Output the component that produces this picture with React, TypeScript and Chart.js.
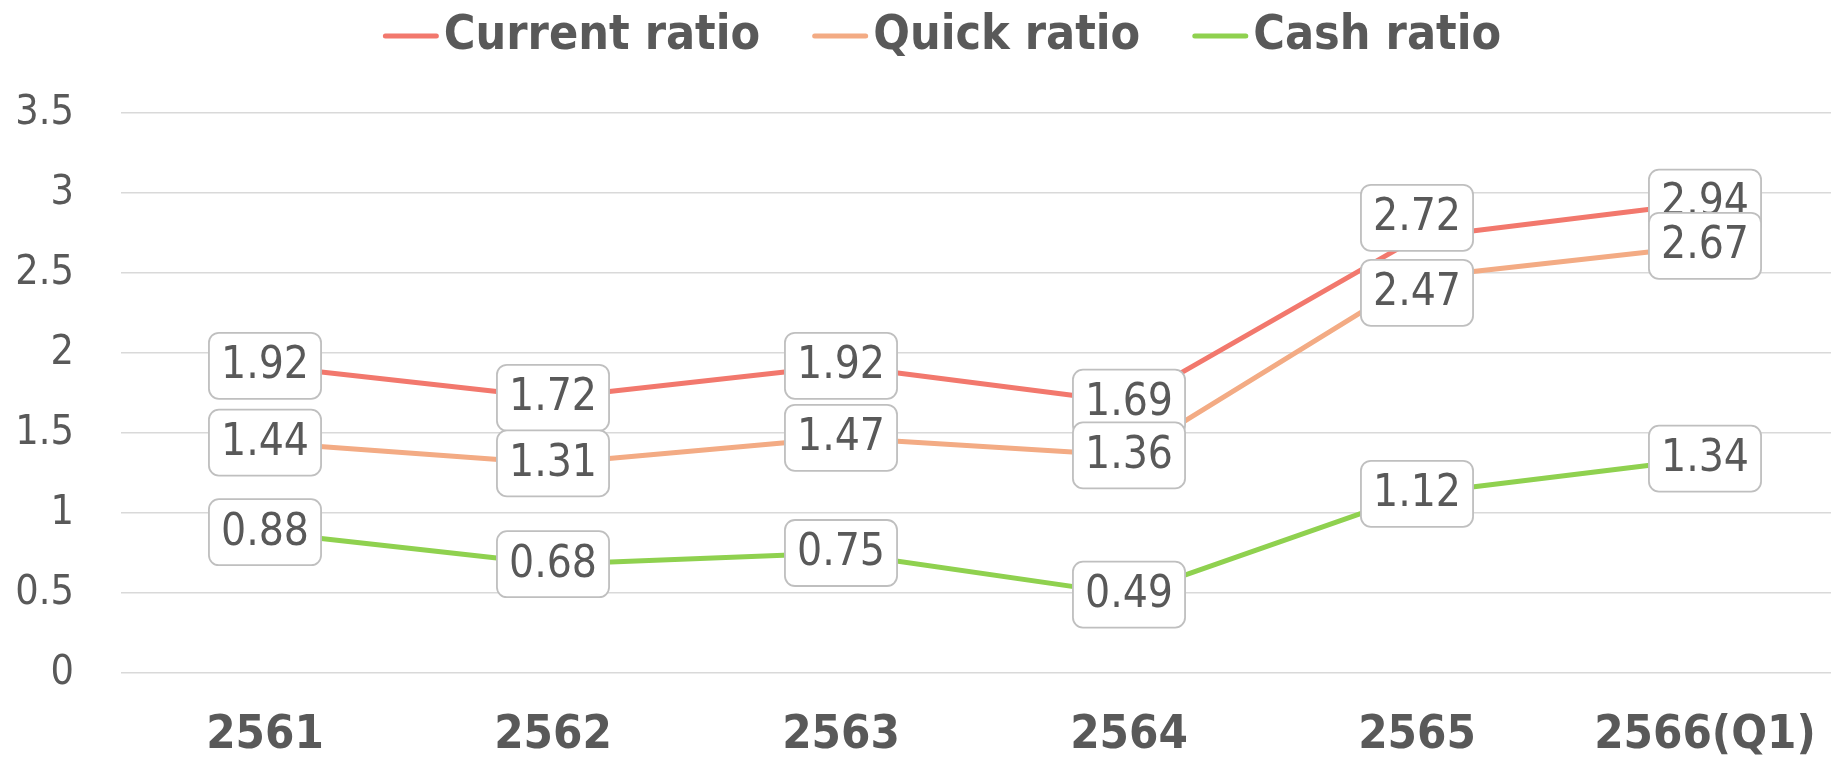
import React, { useEffect, useRef } from "react";
import { Chart, registerables } from "chart.js";

Chart.register(...registerables);

const categories = ["2561", "2562", "2563", "2564", "2565", "2566(Q1)"];
const seriesNames = ["Current ratio", "Quick ratio", "Cash ratio"];
const currentRatio = [1.92, 1.72, 1.92, 1.69, 2.72, 2.94];
const quickRatio = [1.44, 1.31, 1.47, 1.36, 2.47, 2.67];
const cashRatio = [0.88, 0.68, 0.75, 0.49, 1.12, 1.34];
const seriesColors = ["#F2786D", "#F3AB84", "#8FD14F"];
// label nudges (px) where labels were moved apart in the original
const labelNudge = [
  [0, 0, 0, 0, -20, 0],
  [0, 0, 0, 0, 15, 0],
  [0, 0, 0, 0, 0, 0],
];

const FONT = "'DejaVu Sans Condensed', 'Noto Sans', 'DejaVu Sans', sans-serif";
const TEXT = "#595959";

function roundRect(ctx: CanvasRenderingContext2D, x: number, y: number, w: number, h: number, r: number) {
  ctx.beginPath();
  ctx.moveTo(x + r, y);
  ctx.lineTo(x + w - r, y);
  ctx.arcTo(x + w, y, x + w, y + r, r);
  ctx.lineTo(x + w, y + h - r);
  ctx.arcTo(x + w, y + h, x + w - r, y + h, r);
  ctx.lineTo(x + r, y + h);
  ctx.arcTo(x, y + h, x, y + h - r, r);
  ctx.lineTo(x, y + r);
  ctx.arcTo(x, y, x + r, y, r);
  ctx.closePath();
}

const labelPlugin = {
  id: "boxLabels",
  afterDatasetsDraw(chart: any) {
    const ctx: CanvasRenderingContext2D = chart.ctx;
    ctx.save();
    ctx.font = `44px ${FONT}`;
    ctx.textAlign = "center";
    ctx.textBaseline = "middle";
    chart.data.datasets.forEach((ds: any, i: number) => {
      const meta = chart.getDatasetMeta(i);
      meta.data.forEach((pt: any, j: number) => {
        const txt = Number(ds.data[j]).toFixed(2);
        const tw = ctx.measureText(txt).width;
        const w = tw + 24;
        const h = 66;
        const cx = pt.x;
        const cy = pt.y + labelNudge[i][j];
        roundRect(ctx, cx - w / 2, cy - h / 2, w, h, 10);
        ctx.fillStyle = "#ffffff";
        ctx.fill();
        ctx.lineWidth = 1.8;
        ctx.strokeStyle = "#BFBFBF";
        ctx.stroke();
        ctx.fillStyle = TEXT;
        ctx.fillText(txt, cx, cy + 1);
      });
    });
    ctx.restore();
  },
};

const legendPlugin = {
  id: "customLegend",
  afterDraw(chart: any) {
    const ctx: CanvasRenderingContext2D = chart.ctx;
    ctx.save();
    ctx.font = `bold 48px ${FONT}`;
    ctx.textBaseline = "middle";
    ctx.textAlign = "left";
    const marker = 56;
    const gapText = 5;
    const gapItem = 52;
    const widths = seriesNames.map((n) => ctx.measureText(n).width);
    const total =
      widths.reduce((a, b) => a + b, 0) + seriesNames.length * (marker + gapText) + (seriesNames.length - 1) * gapItem;
    let x = chart.width / 2 - total / 2;
    const y = 36;
    seriesNames.forEach((n, i) => {
      ctx.strokeStyle = seriesColors[i];
      ctx.lineWidth = 5;
      ctx.lineCap = "round";
      ctx.beginPath();
      ctx.moveTo(x + 2.5, y);
      ctx.lineTo(x + marker - 2.5, y);
      ctx.stroke();
      x += marker + gapText;
      ctx.fillStyle = TEXT;
      ctx.fillText(n, x, y + 1);
      x += widths[i] + gapItem;
    });
    ctx.restore();
  },
};

export default function App() {
  const ref = useRef<HTMLCanvasElement>(null);
  useEffect(() => {
    document.body.style.margin = "0";
    document.body.style.overflow = "hidden";
    document.documentElement.style.overflow = "hidden";
    const values = [currentRatio, quickRatio, cashRatio];
    const chart = new Chart(ref.current as HTMLCanvasElement, {
      type: "line",
      data: {
        labels: categories,
        datasets: seriesNames.map((n, i) => ({
          label: n,
          data: values[i],
          borderColor: seriesColors[i],
          backgroundColor: seriesColors[i],
          borderWidth: 5,
          borderCapStyle: "round",
          borderJoinStyle: "round",
          pointRadius: 0,
          tension: 0,
          fill: false,
        })),
      },
      options: {
        animation: false,
        responsive: false,
        maintainAspectRatio: false,
        layout: { padding: { top: 113, right: 35, left: 0, bottom: 0 } },
        plugins: {
          legend: { display: false },
          tooltip: { enabled: false },
        },
        scales: {
          x: {
            offset: true,
            grid: { display: false, drawTicks: false },
            border: { display: false },
            ticks: {
              color: TEXT,
              font: { family: FONT, size: 47, weight: "bold" },
              padding: 35,
              maxRotation: 0,
              autoSkip: false,
            },
            afterFit(scale: any) {
              scale.height = 90;
            },
          },
          y: {
            min: 0,
            max: 3.5,
            grid: { color: "#D9D9D9", lineWidth: 1.5, drawTicks: false },
            border: { display: false },
            ticks: {
              stepSize: 0.5,
              color: TEXT,
              font: { family: FONT, size: 41 },
              padding: 47,
              callback: (v: any) => String(Number(v)),
            },
            afterFit(scale: any) {
              scale.width = 121;
            },
          },
        },
      },
      plugins: [labelPlugin, legendPlugin],
    } as any);
    return () => chart.destroy();
  }, []);
  return (
    <div style={{ width: 1884, height: 763, position: "relative" }}>
      <canvas ref={ref} width={1884} height={763} style={{ width: 1884, height: 763, display: "block" }} />
    </div>
  );
}
